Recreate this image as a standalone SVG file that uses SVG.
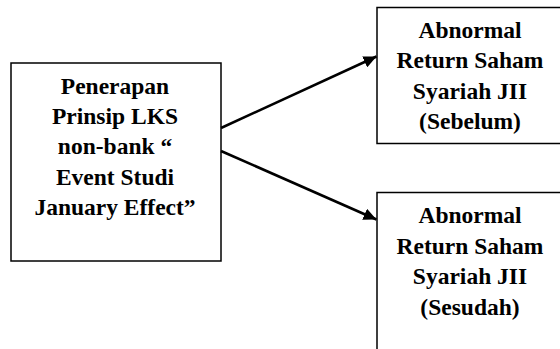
<svg xmlns="http://www.w3.org/2000/svg" width="560" height="349" viewBox="0 0 560 349">
<style>
.box{fill:#fff;stroke:#000;stroke-width:1.5}
.t{font-family:'Liberation Serif','Times New Roman','DejaVu Serif',serif;font-weight:700;font-size:23.5px;text-anchor:middle;fill:#000}
.c{stroke:#000;stroke-width:2.6;fill:none}
</style>
<defs>
<marker id="ah" markerUnits="userSpaceOnUse" markerWidth="14" markerHeight="12" refX="13" refY="6" orient="auto">
<path d="M0,0 L13,6 L0,12 z" fill="#000"/>
</marker>
</defs>
<rect width="560" height="349" fill="#fff"/>
<g id="node-left">
<rect class="box" x="11" y="63" width="210" height="198"/>
<text class="t" x="115" y="94">Penerapan</text>
<text class="t" x="115" y="124">Prinsip LKS</text>
<text class="t" x="115" y="154">non-bank  “</text>
<text class="t" x="115" y="185">Event Studi</text>
<text class="t" x="115" y="215">January Effect”</text>
</g>
<g id="node-sebelum">
<rect class="box" x="377" y="7.5" width="200" height="136"/>
<text class="t" x="470" y="38">Abnormal</text>
<text class="t" x="470" y="68">Return Saham</text>
<text class="t" x="470" y="99">Syariah JII</text>
<text class="t" x="470" y="129">(Sebelum)</text>
</g>
<g id="node-sesudah">
<rect class="box" x="377" y="192.5" width="200" height="180"/>
<text class="t" x="470" y="223">Abnormal</text>
<text class="t" x="470" y="254">Return Saham</text>
<text class="t" x="470" y="284">Syariah JII</text>
<text class="t" x="470" y="315">(Sesudah)</text>
</g>
<g id="connectors">
<line class="c" x1="221" y1="128" x2="376.5" y2="56.5" marker-end="url(#ah)"/>
<line class="c" x1="221" y1="151" x2="376.5" y2="219.5" marker-end="url(#ah)"/>
</g>
</svg>
